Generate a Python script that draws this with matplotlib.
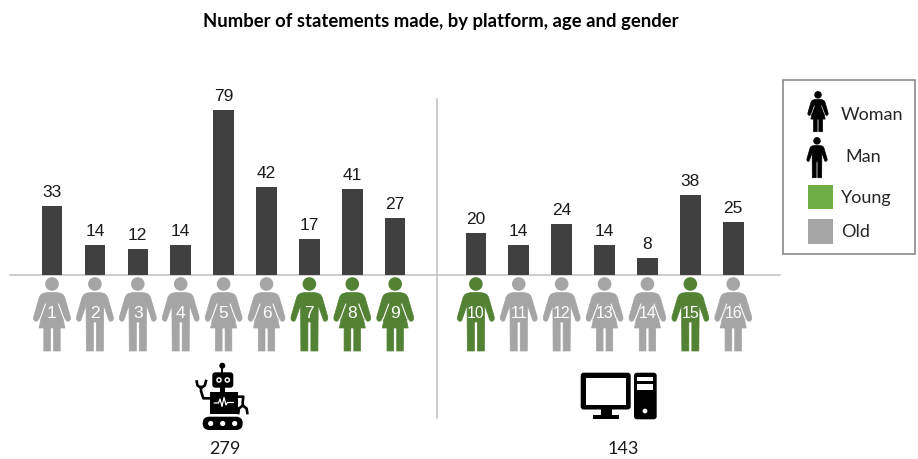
import matplotlib
matplotlib.use('Agg')
import matplotlib.pyplot as plt
from matplotlib.patches import Circle, FancyBboxPatch, Polygon, Rectangle

# statements per participant, robot platform first, then computer
robot_counts = [33, 14, 12, 14, 79, 42, 17, 41, 27]
computer_counts = [20, 14, 24, 14, 8, 38, 25]
genders = ['W', 'M', 'M', 'M', 'W', 'W', 'M', 'W', 'W',
           'M', 'M', 'M', 'W', 'W', 'M', 'W']
ages = ['old', 'old', 'old', 'old', 'old', 'old', 'young', 'young', 'young',
        'young', 'old', 'old', 'old', 'old', 'young', 'old']
title = 'Number of statements made, by platform, age and gender'
legend_labels = ['Woman', 'Man', 'Young', 'Old']

BAR_COLOR = '#404040'
LINE_COLOR = '#bfbfbf'
ICON_COLORS = {'young': '#548235', 'old': '#a5a5a5'}

# layout in pixels
W, H = 918, 459
STEP = 42.9
FIRST_X = 52
GROUP_GAP = 0.88
BASE_Y = 274.5
PX_PER_STATEMENT = 2.085

UPPER_HALF = [(0, 15.5), (5, 15.6), (8.5, 16.2), (11, 17.6), (12.6, 20), (18.4, 40),
              (18.3, 42.5), (17, 44), (15.3, 44.3), (14, 43.2)]
MAN_HALF = UPPER_HALF + [(8.8, 28), (8.5, 74), (1.5, 74), (1.5, 45), (0, 45)]
WOMAN_HALF = UPPER_HALF + [(12.4, 40), (11.5, 44), (13, 51), (8.2, 51), (8.2, 74),
                           (1.5, 74), (1.5, 51), (0, 51)]


def mirrored(half):
    return half + [(-x, y) for x, y in reversed(half)]


def draw_person(ax, cx, top, gender, color, scale=1.0):
    half = WOMAN_HALF if gender == 'W' else MAN_HALF
    pts = [(cx + x * scale, top + y * scale) for x, y in mirrored(half)]
    ax.add_patch(Polygon(pts, closed=True, fc=color, ec=color, lw=0.5, joinstyle='round'))
    ax.add_patch(Circle((cx, top + 7 * scale), 6.8 * scale, fc=color, ec='none'))
    if gender == 'W':
        for side in (-1, 1):
            ax.plot([cx + side * 6.5 * scale, cx + side * 12 * scale],
                    [top + 27 * scale, top + 42 * scale],
                    color='white', lw=0.8 * scale, solid_capstyle='round')


def rounded(ax, x0, y0, x1, y1, r, color):
    ax.add_patch(FancyBboxPatch((x0 + r, y0 + r), x1 - x0 - 2 * r, y1 - y0 - 2 * r,
                                boxstyle=f'round,pad={r},rounding_size={r}',
                                fc=color, ec='none'))


def draw_robot(ax):
    black = 'black'
    ax.add_patch(Circle((222.3, 365.7), 3, fc=black, ec='none'))
    ax.plot([222.3, 222.3], [366, 373], color=black, lw=1.4)
    rounded(ax, 212.3, 372.3, 233.3, 387.7, 3, black)
    for ex in (219, 227.3):
        ax.add_patch(Circle((ex, 380), 2.8, fc='white', ec='none'))
        ax.add_patch(Circle((ex, 380), 1.3, fc=black, ec='none'))
    ax.add_patch(Rectangle((220, 387), 5, 5, fc=black, ec='none'))
    ax.add_patch(Rectangle((210, 391.7), 27.7, 22.6, fc=black, ec='none'))
    ax.plot([214.3, 218.5, 220, 222, 224, 226, 227.5, 233.3],
            [403, 403, 399, 406.5, 397.5, 405, 402.5, 402.5],
            color='white', lw=0.9)
    # left arm with claw
    ax.plot([211, 203.3, 201, 201], [398.3, 398.3, 391, 387], color=black, lw=1.9)
    ax.plot([196.7, 197.5, 201, 204.8, 206], [381.5, 385.5, 388, 385.5, 381], color=black, lw=1.9)
    # right arm with claw
    ax.plot([237, 243.3, 242.7, 242.7], [396.7, 396.7, 402, 405.5], color=black, lw=1.9)
    ax.plot([238.3, 238.9, 242.7, 246.6, 247.3], [413, 408.5, 405.5, 408.5, 413], color=black, lw=1.9)
    # tracks
    rounded(ax, 202.7, 416.7, 242.7, 430, 6.6, black)
    for wx in (210.7, 222.7, 234.7):
        ax.add_patch(Circle((wx, 423.5), 2.6, fc='white', ec='none'))


def draw_computer(ax):
    black = 'black'
    rounded(ax, 580.7, 372.7, 630.7, 409.5, 3, black)
    ax.add_patch(Rectangle((586, 377.7), 40, 27.3, fc='white', ec='none'))
    ax.add_patch(Rectangle((600.7, 409), 11, 6.5, fc=black, ec='none'))
    ax.add_patch(Rectangle((593.3, 415), 26, 4.3, fc=black, ec='none'))
    rounded(ax, 634, 372.7, 656.7, 419.3, 3, black)
    ax.add_patch(Rectangle((637.3, 376.5), 16, 4, fc='white', ec='none'))
    ax.add_patch(Rectangle((637.3, 383.5), 16, 6, fc='white', ec='none'))
    ax.add_patch(Circle((645, 411), 2.4, fc='white', ec='none'))


fig = plt.figure(figsize=(W / 100, H / 100), dpi=100, facecolor='white')

# pixel canvas for the pictograms, legend and decorations
canvas = fig.add_axes([0, 0, 1, 1], zorder=1)
canvas.set_xlim(0, W)
canvas.set_ylim(H, 0)
canvas.axis('off')

# bars share the figure area: x in participant slots, y in statements
ax = fig.add_axes([0, 0, 1, 1], zorder=2)
ax.patch.set_alpha(0)
ax.set_xlim(-FIRST_X / STEP, (W - FIRST_X) / STEP)
ax.set_ylim(-(H - BASE_Y) / PX_PER_STATEMENT, BASE_Y / PX_PER_STATEMENT)
ax.axis('off')

counts = robot_counts + computer_counts
slots = [i if i < len(robot_counts) else i + GROUP_GAP for i in range(len(counts))]
ax.bar(slots, counts, width=0.48, color=BAR_COLOR, zorder=2)
for s, c in zip(slots, counts):
    ax.annotate(str(c), (s, c), xytext=(0, 6.5), textcoords='offset points', ha='center',
                va='baseline', fontsize=12.5, family='Liberation Sans', color='#1a1a1a')

canvas.plot([10, 780], [BASE_Y, BASE_Y], color=LINE_COLOR, lw=1.1)
canvas.plot([436.5, 436.5], [99, 418], color=LINE_COLOR, lw=1.1)

for i, s in enumerate(slots):
    cx = FIRST_X + s * STEP
    draw_person(canvas, cx, 277, genders[i], ICON_COLORS[ages[i]])
    canvas.text(cx, 313, str(i + 1), ha='center', va='center', color='white',
                fontsize=12.5 if i < 9 else 11.5, family='Liberation Sans')

draw_robot(canvas)
draw_computer(canvas)
canvas.text(225, 449, str(sum(robot_counts)), ha='center', va='center', fontsize=13, family='Lato', color='#1a1a1a')
canvas.text(623, 449, str(sum(computer_counts)), ha='center', va='center', fontsize=13, family='Lato', color='#1a1a1a')

fig.text(440.5 / W, 1 - 22 / H, title, ha='center', va='center', fontsize=13.3,
         fontweight='bold', family='Lato', color='black')

# hand-built legend box
canvas.add_patch(Rectangle((783, 80), 132, 174, fc='white', ec='#7f7f7f', lw=1.1))
draw_person(canvas, 818, 91, 'W', 'black', scale=0.55)
draw_person(canvas, 817, 137, 'M', 'black', scale=0.55)
canvas.add_patch(Rectangle((808, 185), 25, 24, fc='#70ad47', ec='none'))
canvas.add_patch(Rectangle((808, 219), 25, 25, fc='#a5a5a5', ec='none'))
for label, lx, ly in zip(legend_labels, [841, 845, 841, 841], [115, 157, 198, 232]):
    canvas.text(lx, ly, label, ha='left', va='center', fontsize=13, family='Lato', color='#262626')

fig.savefig('out.png', dpi=100)
